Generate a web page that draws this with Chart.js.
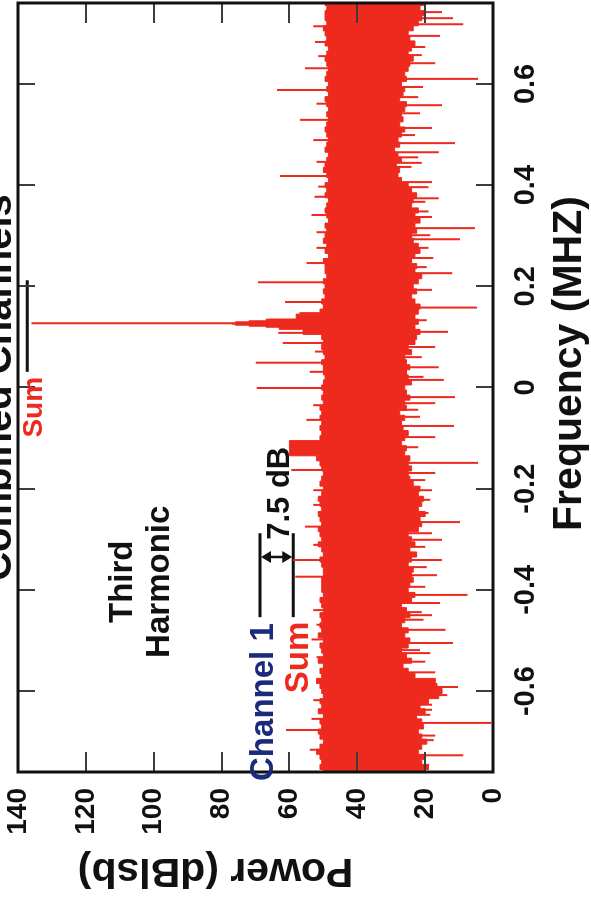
<!DOCTYPE html>
<html><head><meta charset="utf-8">
<script src="https://cdn.jsdelivr.net/npm/chart.js@4.4.1/dist/chart.umd.min.js"></script>
<style>
html,body{margin:0;padding:0;background:#fff;}
#wrap{position:relative;width:591px;height:900px;overflow:hidden;background:#fff;}
#rot{position:absolute;left:0;top:0;width:900px;height:591px;transform-origin:0 0;transform:translate(0px,900px) rotate(-90deg);}
canvas{display:block;}
</style></head><body>
<div id="wrap"><div id="rot"><canvas id="c" width="900" height="591"></canvas></div></div>
<script>
// ---- Data ----
const bandFreqs = [
-0.76,-0.75,-0.74,-0.73,-0.72,-0.71,-0.70,-0.69,-0.68,-0.67,
-0.66,-0.65,-0.64,-0.63,-0.62,-0.61,-0.60,-0.59,-0.58,-0.57,
-0.56,-0.55,-0.54,-0.53,-0.52,-0.51,-0.50,-0.49,-0.48,-0.47,
-0.46,-0.45,-0.44,-0.43,-0.42,-0.41,-0.40,-0.39,-0.38,-0.37,
-0.36,-0.35,-0.34,-0.33,-0.32,-0.31,-0.30,-0.29,-0.28,-0.27,
-0.26,-0.25,-0.24,-0.23,-0.22,-0.21,-0.20,-0.19,-0.18,-0.17,
-0.16,-0.15,-0.14,-0.13,-0.12,-0.11,-0.10,-0.09,-0.08,-0.07,
-0.06,-0.05,-0.04,-0.03,-0.02,-0.01,0.00,0.01,0.02,0.03,
0.04,0.05,0.06,0.07,0.08,0.09,0.10,0.11,0.12,0.13,
0.14,0.15,0.16,0.17,0.18,0.19,0.20,0.21,0.22,0.23,
0.24,0.25,0.26,0.27,0.28,0.29,0.30,0.31,0.32,0.33,
0.34,0.35,0.36,0.37,0.38,0.39,0.40,0.41,0.42,0.43,
0.44,0.45,0.46,0.47,0.48,0.49,0.50,0.51,0.52,0.53,
0.54,0.55,0.56,0.57,0.58,0.59,0.60,0.61,0.62,0.63,
0.64,0.65,0.66,0.67,0.68,0.69,0.70,0.71,0.72,0.73,
0.74,0.75,0.76];
const bandTop = [
50,51,50.5,51,52,51,50,51,51.5,50.5,
51,50,51.5,50.5,51,50,50.5,51,52,50.5,
51,50,51.5,50,50.5,51,50,51.5,50.5,51,
50.5,51,50,50.5,51,50,50.5,50.5,50.5,50,
50,50.5,51,50,50.5,51.5,50.5,51,51.5,50.5,
51,51.5,50.5,51,51.5,50.5,50,51,50.5,50,
50.5,51,52,60,60,60,51,50.5,51,50.5,
51,50.5,51,50,50.5,50,50.5,50,49.5,50,
50,50.5,49.5,50,50.5,50,50.5,56,63,66,
58,51,50,50.5,49.5,50,49.5,50,49,49.5,
49.5,50,48.5,49.5,49,50,49.5,49,49.5,48.5,
49,49.5,49,48.5,49.5,49,49.5,48.5,49,50,
49.5,49,48.5,49.5,49,48.5,49,49.5,49,48.5,
49,48.5,49,49.5,48.5,49,48.5,49.5,49,48.5,
49,49.5,49,48.5,49.5,49,49.5,50,49,49.5,
49.5,49,49.5];
const bandBottom = [
20,19,21,20,22,21,19.5,21,22,20.5,
21,22.5,20,21.5,19,16,15,16.5,17,23,
25,26.5,24,25.5,27,25,24.5,26,25,27,
26,24.5,25.5,27,24,23,25,24.5,23.5,24,
23.5,25,24,22.5,24.5,23,24,25,22,21,
21.5,20,22,21,20.5,22,21.5,23.5,24.5,25,
24,25,24.5,26,25.5,27,26,25,26.5,27,
26,27.5,25.5,26,24.5,25.5,26,24,25,25.5,
24.5,25.5,26,24,25,23,22.5,21.5,23,22,
23,22,21.5,23,24,22.5,23.5,22,21,23,
22.5,24,23,21.5,22,23.5,24,22.5,23,21.5,
23,22,24,23.5,22.5,24,25,27,28,27.5,
28.5,27,28,29,27.5,28,27,26,27.5,26.5,
27,26,25.5,27.5,26.5,26,27,25.5,26,25,
24.5,23.5,25,24,23,24.5,25,23.5,22,21,
20,21.5,20.5];

// isolated lines above the band (MHz, dB)
const upFreqs  = [0.714,0.683,0.631,0.588,0.529,0.489,0.446,0.418,0.377,0.341,0.307,0.246,0.208,0.169,0.147,0.134,0.131,0.129,0.127,0.126,0.124,0.122,0.120,0.108,0.088,0.049,0.031,-0.001,-0.064,-0.163,-0.203,-0.275,-0.311,-0.341,-0.374,-0.44,-0.469,-0.533,-0.578,-0.618,-0.677,-0.716,
                  0.655,0.561,0.397,0.276,0.071,-0.035,-0.232,-0.498,-0.655];
const upLevels = [53,52.5,55.4,63.7,56.9,53,52,62.8,52.6,53.5,52,55,69.3,61.3,57,67,72,76,136,77,76,72,67,63.3,62,69.9,54,69.6,55,59.5,53,55.4,53,58.9,58.3,53,52,52,52,53,61,54,
                  51.5,52,51.5,52,52.5,53,53,53.5,53.5];
// isolated lines below the band (MHz, dB)
const downFreqs  = [0.742,0.730,0.718,0.695,0.641,0.610,0.594,0.558,0.513,0.483,0.465,0.444,0.406,0.374,0.337,0.315,0.293,0.256,0.226,0.158,0.110,0.080,0.040,0.015,-0.019,-0.031,-0.076,-0.098,-0.149,-0.169,-0.203,-0.266,-0.301,-0.341,-0.371,-0.41,-0.426,-0.45,-0.479,-0.505,-0.525,-0.563,-0.592,-0.608,-0.637,-0.663,-0.688,-0.727,-0.746,
                    0.673,0.657,0.574,0.542,0.499,0.455,0.436,0.396,0.367,0.348,0.301,0.276,0.238,0.193,0.133,0.060,0.021,-0.044,-0.058,-0.118,-0.183,-0.222,-0.248,-0.288,-0.315,-0.355,-0.394,-0.444,-0.459,-0.519,-0.542,-0.627,-0.647,-0.697];
const downLevels = [15,11.8,8.8,15.6,17,4.4,20.6,15,18,11.2,16,21,18,16,18,5.3,9.7,17.6,12,4.7,13.3,17,16,14.5,11.2,17,11.5,17,4.4,17,18,9.7,15,15,16.5,7.5,15.6,18,14,11.8,18.5,17,10.3,13.5,18,0.5,17,8.8,19,
                    20,21,22,21.5,23,22,24,19,20,19,18.5,19,19.5,18,19.5,21,20.5,22,21.5,22,20,18.5,19,18,20,19.5,20,21,20.5,21.5,20,18,18.5,17.5];

// annotation levels (dB) and frequency spans (MHz)
const sumPeakSpan = [0.031, 0.212];
const sumPeakLevel = 137.3;
const levelSpan = [-0.454, -0.288];
const channel1Level = 68.7;
const sumLevel = 58.9;
const arrowFreq = -0.335;

const freqMin = -0.76, freqMax = 0.76;
const powerMin = 0, powerMax = 140;

// ---- build datasets ----
const RED = '#ee2a1e';
const NAVY = '#1b2a7a';
const FONT = "'Liberation Sans', Arial, Helvetica, sans-serif";

const bottomPts = bandFreqs.map((f,i)=>({x:f, y:bandBottom[i]}));
const topPts = bandFreqs.map((f,i)=>({x:f, y:bandTop[i]}));
const spikePts = [];
upFreqs.forEach((f,i)=>{ spikePts.push({x:f,y:40},{x:f,y:upLevels[i]},{x:f,y:null}); });
downFreqs.forEach((f,i)=>{ spikePts.push({x:f,y:35},{x:f,y:downLevels[i]},{x:f,y:null}); });

const decor = {
  id: 'decor',
  afterDraw(chart) {
    const {ctx, chartArea: a, scales: {x, y}} = chart;
    ctx.save();
    // inward tick marks on all four sides
    ctx.strokeStyle = '#3c3c3c'; ctx.lineWidth = 2;
    ctx.beginPath();
    x.ticks.forEach(t => {
      const px = Math.round(x.getPixelForValue(t.value));
      ctx.moveTo(px, a.bottom); ctx.lineTo(px, a.bottom - 17);
      ctx.moveTo(px, a.top); ctx.lineTo(px, a.top + 17);
    });
    y.ticks.forEach(t => {
      if (t.value <= y.min || t.value >= y.max) return;
      const py = Math.round(y.getPixelForValue(t.value));
      ctx.moveTo(a.left, py); ctx.lineTo(a.left + 20, py);
      ctx.moveTo(a.right, py); ctx.lineTo(a.right - 20, py);
    });
    ctx.stroke();
    // frame
    ctx.strokeStyle = '#111'; ctx.lineWidth = 3;
    ctx.strokeRect(a.left, a.top, a.right - a.left, a.bottom - a.top);

    // double arrow (7.5 dB)
    const ax = x.getPixelForValue(arrowFreq);
    const y1 = y.getPixelForValue(channel1Level), y2 = y.getPixelForValue(sumLevel);
    ctx.strokeStyle = '#111'; ctx.fillStyle = '#111'; ctx.lineWidth = 2.5;
    ctx.beginPath(); ctx.moveTo(ax, y1 + 8); ctx.lineTo(ax, y2 - 8); ctx.stroke();
    ctx.beginPath(); ctx.moveTo(ax, y1 + 1); ctx.lineTo(ax - 6, y1 + 11); ctx.lineTo(ax + 6, y1 + 11); ctx.closePath(); ctx.fill();
    ctx.beginPath(); ctx.moveTo(ax, y2 - 1); ctx.lineTo(ax - 6, y2 - 11); ctx.lineTo(ax + 6, y2 - 11); ctx.closePath(); ctx.fill();

    // texts
    ctx.textBaseline = 'alphabetic';
    ctx.fillStyle = '#111';
    ctx.font = `bold 40px ${FONT}`; ctx.textAlign = 'center';
    ctx.fillText('Combined Channels', (a.left + a.right) / 2, 11);
    ctx.font = `bold 41px ${FONT}`;
    ctx.fillText('Frequency (MHZ)', (a.left + a.right) / 2 + 24, 581);
    ctx.save();
    ctx.translate(41, (a.top + a.bottom) / 2 - 40);
    ctx.rotate(-Math.PI / 2);
    ctx.fillText('Power (dBlsb)', 0, 0);
    ctx.restore();

    ctx.font = `bold 33px ${FONT}`; ctx.textAlign = 'center';
    ctx.fillText('Third', x.getPixelForValue(-0.384), y.getPixelForValue(106.5));
    ctx.fillText('Harmonic', x.getPixelForValue(-0.384), y.getPixelForValue(95.6));

    ctx.font = `bold 31px ${FONT}`; ctx.textAlign = 'left';
    ctx.fillText('7.5 dB', x.getPixelForValue(-0.301), y.getPixelForValue(60.1));

    ctx.font = `bold 33px ${FONT}`; ctx.textAlign = 'right';
    ctx.fillStyle = NAVY;
    ctx.fillText('Channel 1', x.getPixelForValue(-0.466), y.getPixelForValue(64.8));
    ctx.fillStyle = RED;
    ctx.fillText('Sum', x.getPixelForValue(-0.463), y.getPixelForValue(54.5));
    ctx.font = `bold 28px ${FONT}`;
    ctx.fillText('Sum', x.getPixelForValue(0.021), y.getPixelForValue(132.9));
    ctx.restore();
  }
};

new Chart(document.getElementById('c'), {
  type: 'line',
  data: {
    datasets: [
      {label:'bottom', data: bottomPts, stepped:'middle', borderColor: RED, backgroundColor: RED, borderWidth: 1, pointRadius: 0, fill: false},
      {label:'Sum', data: topPts, stepped:'middle', borderColor: RED, backgroundColor: RED, borderWidth: 1, pointRadius: 0, fill: '-1'},
      {label:'spikes', data: spikePts, borderColor: RED, borderWidth: 2, pointRadius: 0, fill: false, spanGaps: false},
      {label:'sumPeak', data: [{x:sumPeakSpan[0], y:sumPeakLevel},{x:sumPeakSpan[1], y:sumPeakLevel}], borderColor:'#111', borderWidth:3, pointRadius:0, fill:false},
      {label:'ch1Level', data: [{x:levelSpan[0], y:channel1Level},{x:levelSpan[1], y:channel1Level}], borderColor:'#111', borderWidth:3, pointRadius:0, fill:false},
      {label:'sumLevel', data: [{x:levelSpan[0], y:sumLevel},{x:levelSpan[1], y:sumLevel}], borderColor:'#111', borderWidth:3, pointRadius:0, fill:false}
    ]
  },
  options: {
    responsive: false,
    animation: false,
    devicePixelRatio: 1,
    layout: {padding: {top: 18, right: 3, left: 0, bottom: 0}},
    plugins: {legend: {display: false}, tooltip: {enabled: false}, title: {display: false}},
    scales: {
      x: {
        type: 'linear', min: freqMin, max: freqMax,
        grid: {display: false, drawTicks: false}, border: {display: false},
        ticks: {stepSize: 0.2, includeBounds: false, maxRotation: 0, padding: 16, color: '#111', font: {family: FONT, size: 29, weight: 'bold'}},
        afterFit(s) { s.height = 98; }
      },
      y: {
        type: 'linear', min: powerMin, max: powerMax,
        grid: {display: false, drawTicks: true, tickLength: 16}, border: {display: false},
        ticks: {stepSize: 20, padding: 0, color: '#111', font: {family: FONT, size: 28, weight: 'bold', lineHeight: 1}},
        afterFit(s) { s.width = 128; }
      }
    }
  },
  plugins: [decor]
});
</script>
</body></html>
